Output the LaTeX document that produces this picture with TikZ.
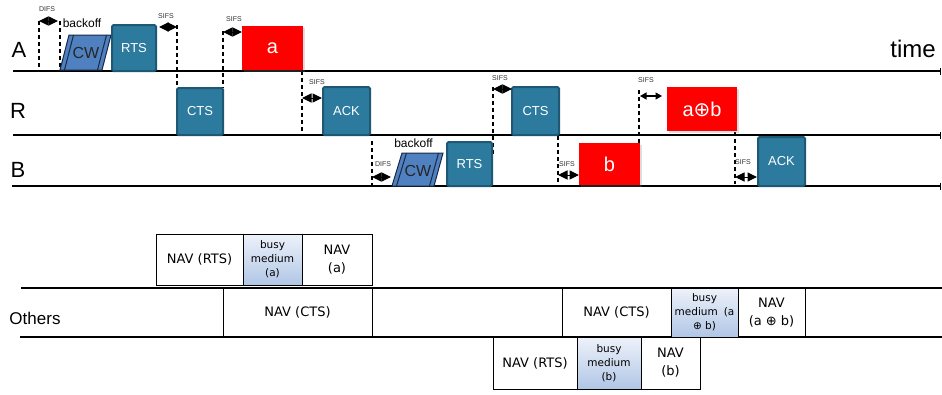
\documentclass[tikz,border=0pt]{standalone}
\usepackage{fontspec}
\setmainfont{Liberation Sans}
\newfontfamily\navfont{DejaVu Sans}
\usetikzlibrary{arrows.meta,shadows}
\definecolor{boxblue}{RGB}{44,122,158}
\definecolor{boxedge}{RGB}{30,88,116}
\definecolor{cwblue}{RGB}{79,129,192}
\definecolor{cwedge}{RGB}{25,40,70}
\definecolor{busytop}{RGB}{238,242,250}
\definecolor{busybot}{RGB}{176,198,230}
\begin{document}
\begin{tikzpicture}[x=1pt,y=-1pt,
  timeline/.style={line width=1.3pt, -{Bar[width=7pt,line width=1pt]}},
  plainline/.style={line width=1.2pt},
  dashline/.style={line width=1.2pt, dash pattern=on 4pt off 3pt},
  gap/.style={line width=1pt, {Triangle[length=9.5pt,width=9pt]}-{Triangle[length=9.5pt,width=9pt]}},
  gapsmall/.style={line width=1.2pt, {Triangle[length=6.5pt,width=7pt]}-{Triangle[length=6.5pt,width=7pt]}},
  bluebox/.style={draw=boxedge, fill=boxblue, line width=2pt, rounded corners=1.5pt, text=white, font=\fontsize{13}{15}\selectfont, inner sep=0pt},
  redbox/.style={fill=red, text=white, font=\fontsize{20}{24}\selectfont, inner sep=0pt, drop shadow={opacity=0.25, shadow xshift=2pt, shadow yshift=-2pt}},
  cwshape/.style={draw=cwedge, fill=cwblue, line width=1pt},
  cwline/.style={draw=cwedge, line width=1pt},
  cwtext/.style={font=\fontsize{16}{18}\selectfont, text=black!85, inner sep=0pt},
  tiny/.style={font=\fontsize{7}{8}\selectfont, text=black!80, inner sep=0pt},
  bolabel/.style={font=\fontsize{12}{14}\selectfont, inner sep=0pt},
  rowlabel/.style={font=\fontsize{22}{24}\selectfont, inner sep=0pt},
  navbox/.style={draw=black, line width=0.8pt, align=center, inner sep=0pt, font=\navfont\fontsize{13}{18}\selectfont},
  busybox/.style={navbox, top color=busytop, bottom color=busybot, font=\navfont\fontsize{10.5}{14}\selectfont}
]
\useasboundingbox (0,0) rectangle (942,394);

% ---------- time lines ----------
\coordinate (Al) at (13,71);  \coordinate (Ar) at (941,71);
\coordinate (Rl) at (13,135); \coordinate (Rr) at (941,135);
\coordinate (Bl) at (12,186); \coordinate (Br) at (941,186);
\draw[timeline] (Al) -- (Ar);
\draw[timeline] (Rl) -- (Rr);
\draw[timeline] (Bl) -- (Br);

\node[rowlabel] (labA) at (19,50) {A};
\node[rowlabel] (labR) at (18,111) {R};
\node[rowlabel] (labB) at (18,170) {B};
\node[font=\fontsize{24}{26}\selectfont, inner sep=0pt] (labTime) at (913,49) {time};

% ---------- dashed guides ----------
\coordinate (d1t) at (39,21);   \coordinate (d1b) at (39,71);
\coordinate (d2t) at (60,21);   \coordinate (d2b) at (60,71);
\coordinate (d3t) at (177,25);  \coordinate (d3b) at (177,88);
\coordinate (d4t) at (223,31);  \coordinate (d4b) at (223,88);
\coordinate (d5t) at (302,71);  \coordinate (d5b) at (302,135);
\coordinate (d6t) at (493,87);  \coordinate (d6b) at (493,155);
\coordinate (d7t) at (372,141); \coordinate (d7b) at (372,186);
\coordinate (d8t) at (558,136); \coordinate (d8b) at (558,186);
\coordinate (d9t) at (639,90);  \coordinate (d9b) at (639,152);
\coordinate (d10t) at (735,132);\coordinate (d10b) at (735,184);
\foreach \i in {1,...,10} {\draw[dashline] (d\i t) -- (d\i b);}

% ---------- station A ----------
\path[cwshape] (60,70) -- (69,35) -- (111,35) -- (102,70) -- cycle;
\draw[cwline] (64.5,70) -- (73.5,35);
\draw[cwline] (97.5,70) -- (106.5,35);
\node[cwtext] (cwA) at (86,53) {CW};
\node[bluebox, minimum width=44pt, minimum height=46pt] (rtsA) at (134,48) {RTS};
\node[redbox, minimum width=61pt, minimum height=44pt] (pa) at (272.5,48) {a};

% ---------- station R ----------
\node[bluebox, minimum width=46pt, minimum height=47pt] (ctsR1) at (200,111.5) {CTS};
\node[bluebox, minimum width=47pt, minimum height=48pt] (ackR) at (346.5,111) {ACK};
\node[bluebox, minimum width=47pt, minimum height=48pt] (ctsR2) at (535.5,111) {CTS};
\node[redbox, minimum width=70pt, minimum height=44pt] (pab) at (702,109) {a{\navfont ⊕}b};

% ---------- station B ----------
\path[cwshape] (392,186) -- (402,153) -- (443,153) -- (434,186) -- cycle;
\draw[cwline] (396.5,186) -- (406.5,153);
\draw[cwline] (429.5,186) -- (438.5,153);
\node[cwtext] (cwB) at (418,171) {CW};
\node[bluebox, minimum width=45pt, minimum height=44pt] (rtsB) at (469.5,164) {RTS};
\node[redbox, minimum width=61pt, minimum height=42pt] (pb) at (609.5,164) {b};
\node[bluebox, minimum width=47pt, minimum height=49pt] (ackB) at (781.5,161.5) {ACK};

% ---------- interframe spaces ----------
\coordinate (g1a) at (39,21);   \coordinate (g1b) at (58,21);
\coordinate (g2a) at (159,27);  \coordinate (g2b) at (177,27);
\coordinate (g3a) at (223,32);  \coordinate (g3b) at (242,32);
\coordinate (g4a) at (302,98);  \coordinate (g4b) at (322,98);
\coordinate (g5a) at (493,89);  \coordinate (g5b) at (512,89);
\coordinate (g6a) at (372,177); \coordinate (g6b) at (391,177);
\coordinate (g7a) at (558,175); \coordinate (g7b) at (579,175);
\coordinate (g9a) at (735,177); \coordinate (g9b) at (757,177);
\coordinate (g8a) at (640,96);  \coordinate (g8b) at (662,96);
\foreach \i in {1,2,3,4,5,6,7,9} {\draw[gap] (g\i a) -- (g\i b);}
\draw[gapsmall] (g8a) -- (g8b);

\node[tiny] (tDifsA) at (47,9) {DIFS};
\node[bolabel] (tBoA) at (82,23) {backoff};
\node[tiny] (tS1) at (166,16) {SIFS};
\node[tiny] (tS2) at (234,19) {SIFS};
\node[tiny] (tS3) at (317,82) {SIFS};
\node[tiny] (tS4) at (500,78) {SIFS};
\node[tiny] (tDifsB) at (383,164) {DIFS};
\node[bolabel] (tBoB) at (413.5,143) {backoff};
\node[tiny] (tS5) at (567,164) {SIFS};
\node[tiny] (tS6) at (646,80) {SIFS};
\node[tiny] (tS7) at (743,162) {SIFS};

% ---------- others / NAV ----------
\coordinate (O1l) at (21,288); \coordinate (O1r) at (942,288);
\coordinate (O2l) at (20,337); \coordinate (O2r) at (942,337);
\draw[plainline] (O1l) -- (O1r);
\draw[plainline] (O2l) -- (O2r);
\node[font=\fontsize{17}{19}\selectfont, inner sep=0pt] (labOthers) at (35,318) {Others};

\node[navbox, minimum width=87pt, minimum height=51pt] (navRtsA) at (199.5,259.5) {NAV (RTS)};
\node[busybox, minimum width=59pt, minimum height=51pt] (busyA) at (272.5,259.5) {busy\\medium\\(a)};
\node[navbox, minimum width=70pt, minimum height=51pt] (navA) at (337,259.5) {NAV\\(a)};
\node[navbox, minimum width=149pt, minimum height=49pt] (navCtsA) at (297.5,312.5) {NAV (CTS)};

\node[navbox, minimum width=109pt, minimum height=49pt] (navCtsB) at (616.5,312.5) {NAV (CTS)};
\node[busybox, minimum width=67pt, minimum height=49pt] (busyAB) at (704.5,312.5) {busy\\medium\hspace{6pt}(a\\{\navfont ⊕} b)};
\node[navbox, minimum width=67pt, minimum height=49pt] (navAB) at (771.5,312.5) {NAV\\(a {\navfont ⊕} b)};

\node[navbox, minimum width=84pt, minimum height=52pt] (navRtsB) at (535,363) {NAV (RTS)};
\node[busybox, minimum width=64pt, minimum height=52pt] (busyB) at (609,363) {busy\\medium\\(b)};
\node[navbox, minimum width=59pt, minimum height=52pt] (navB) at (670.5,363) {NAV\\(b)};
\end{tikzpicture}
\end{document}
